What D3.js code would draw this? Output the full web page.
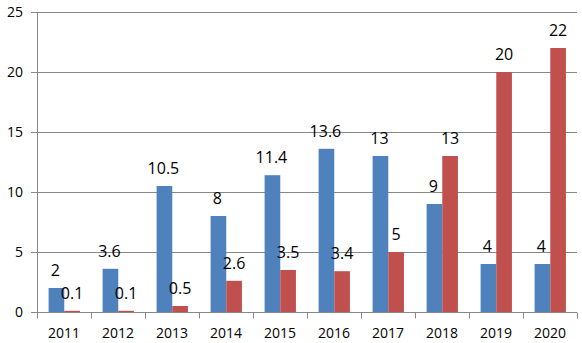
<!DOCTYPE html>
<html>
<head>
<meta charset="utf-8">
<script src="https://cdn.jsdelivr.net/npm/d3@7"></script>
<style>
  body { margin: 0; background: #fff; }
  text { font-family: "Segoe UI", "Open Sans", "DejaVu Sans", sans-serif; }
</style>
</head>
<body>
<div id="chart"></div>
<script>
var years = ["2011", "2012", "2013", "2014", "2015", "2016", "2017", "2018", "2019", "2020"],
    blueVals = [2, 3.6, 10.5, 8, 11.4, 13.6, 13, 9, 4, 4],
    redVals = [0.1, 0.1, 0.5, 2.6, 3.5, 3.4, 5, 13, 20, 22],
    yTicks = [0, 5, 10, 15, 20, 25];

var margin = { top: 12, right: 5, bottom: 31, left: 37 },
    width = 582 - margin.left - margin.right,
    height = 343 - margin.top - margin.bottom;

var svg = d3.select("#chart")
  .append("svg")
  .attr("width", 582)
  .attr("height", 343)
  .append("g")
  .attr("transform", "translate(" + margin.left + "," + margin.top + ")");

var x = d3.scaleBand().domain(years).range([0, width]).padding(0);
var y = d3.scaleLinear().domain([0, 25]).range([height, 0]);
var bw = x.bandwidth(), barW = bw * 0.29, gap = bw * 0.215;

// gridlines
svg.append("g")
  .selectAll("line")
  .data(yTicks)
  .enter()
  .append("line")
  .attr("x1", -6)
  .attr("x2", width)
  .attr("y1", function(d) { return Math.round(y(d)) + 0.5; })
  .attr("y2", function(d) { return Math.round(y(d)) + 0.5; })
  .attr("stroke", "#878787")
  .attr("stroke-width", 1);

// y labels
svg.append("g")
  .selectAll("text")
  .data(yTicks)
  .enter()
  .append("text")
  .attr("x", -14)
  .attr("y", function(d) { return y(d) + 5; })
  .attr("text-anchor", "end")
  .attr("font-size", "14px")
  .text(function(d) { return d; });

// bars
svg.append("g")
  .selectAll("rect")
  .data(years)
  .enter()
  .append("rect")
  .attr("x", function(d) { return x(d) + gap; })
  .attr("y", function(d, i) { return y(blueVals[i]); })
  .attr("width", barW)
  .attr("height", function(d, i) { return height - y(blueVals[i]); })
  .attr("fill", "#4F81BD");

svg.append("g")
  .selectAll("rect")
  .data(years)
  .enter()
  .append("rect")
  .attr("x", function(d) { return x(d) + gap + barW; })
  .attr("y", function(d, i) { return y(redVals[i]); })
  .attr("width", barW)
  .attr("height", function(d, i) { return height - y(redVals[i]); })
  .attr("fill", "#C0504D");

// value labels
svg.append("g")
  .selectAll("text")
  .data(years)
  .enter()
  .append("text")
  .attr("x", function(d) { return x(d) + gap + barW / 2 - 1; })
  .attr("y", function(d, i) { return y(blueVals[i]) - 12; })
  .attr("text-anchor", "middle")
  .attr("font-size", "16px")
  .text(function(d, i) { return blueVals[i]; });

svg.append("g")
  .selectAll("text")
  .data(years)
  .enter()
  .append("text")
  .attr("x", function(d) { return x(d) + gap + barW * 1.5; })
  .attr("y", function(d, i) { return y(redVals[i]) - 12; })
  .attr("text-anchor", "middle")
  .attr("font-size", "16px")
  .text(function(d, i) { return redVals[i]; });

// axes lines
svg.append("line")
  .attr("x1", 0.5).attr("x2", 0.5)
  .attr("y1", 0).attr("y2", height)
  .attr("stroke", "#878787");

var xAxis = svg.append("g")
  .attr("transform", "translate(0," + (Math.round(height) + 0.5) + ")");
xAxis.selectAll("line")
  .data(d3.range(years.length + 1))
  .enter()
  .append("line")
  .attr("x1", function(i) { return Math.round(i * bw) + 0.5; })
  .attr("x2", function(i) { return Math.round(i * bw) + 0.5; })
  .attr("y1", 0)
  .attr("y2", 6)
  .attr("stroke", "#878787");
xAxis.selectAll("text")
  .data(years)
  .enter()
  .append("text")
  .attr("x", function(d) { return x(d) + bw / 2; })
  .attr("y", 25)
  .attr("text-anchor", "middle")
  .attr("font-size", "14px")
  .text(function(d) { return d; });
</script>
</body>
</html>
